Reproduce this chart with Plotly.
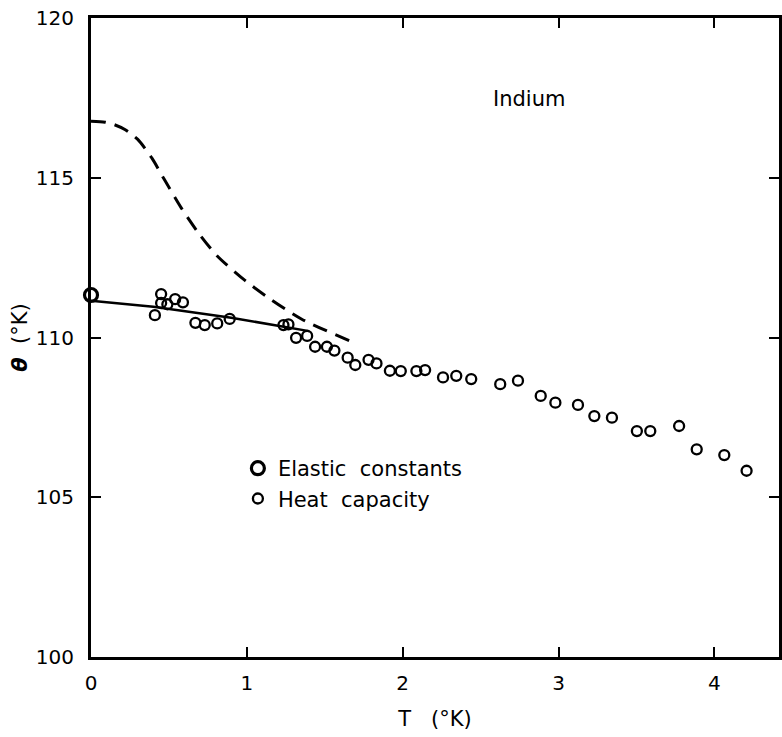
import plotly.graph_objects as go

# Data
elastic_T = [0.0]
elastic_theta = [111.33]

heat_T = [0.41, 0.45, 0.45, 0.49, 0.54, 0.59, 0.67, 0.73, 0.81, 0.89,
          1.235, 1.267, 1.316, 1.387, 1.438, 1.514, 1.562, 1.647, 1.696,
          1.781, 1.832, 1.918, 1.988, 2.088, 2.144, 2.259, 2.344, 2.440,
          2.626, 2.740, 2.886, 2.980, 3.125, 3.230, 3.343, 3.503, 3.589,
          3.774, 3.887, 4.064, 4.207]
heat_theta = [110.70, 111.36, 111.08, 111.04, 111.20, 111.10, 110.46, 110.39, 110.44, 110.58,
              110.39, 110.41, 109.99, 110.05, 109.71, 109.71, 109.59, 109.37, 109.14,
              109.30, 109.19, 108.96, 108.95, 108.95, 108.98, 108.75, 108.80, 108.70,
              108.54, 108.65, 108.17, 107.96, 107.89, 107.54, 107.49, 107.07, 107.07,
              107.23, 106.50, 106.32, 105.83]

fit_T = [0.0, 0.4, 0.9, 1.25, 1.4]
fit_theta = [111.15, 110.96, 110.62, 110.33, 110.2]

dash_T = [0.0, 0.09, 0.15, 0.22, 0.30, 0.39, 0.47, 0.58, 0.69, 0.81, 0.99, 1.16, 1.35, 1.67]
dash_theta = [116.77, 116.74, 116.66, 116.50, 116.20, 115.62, 114.95, 114.05, 113.27,
              112.55, 111.78, 111.17, 110.58, 109.87]

x_ticks = [0, 1, 2, 3, 4]
y_ticks = [100, 105, 110, 115, 120]

FONT = "DejaVu Sans"

fig = go.Figure()
fig.add_trace(go.Scatter(x=dash_T, y=dash_theta, mode="lines", showlegend=False,
                         line=dict(color="black", width=3, dash="15px,9px"),
                         line_shape="spline", line_smoothing=0.7))
fig.add_trace(go.Scatter(x=fit_T, y=fit_theta, mode="lines", showlegend=False,
                         line=dict(color="black", width=2.5)))
fig.add_trace(go.Scatter(x=heat_T, y=heat_theta, mode="markers", name="Heat  capacity",
                         marker=dict(symbol="circle-open", size=10, color="black",
                                     line=dict(width=2.3, color="black"))))
fig.add_trace(go.Scatter(x=elastic_T, y=elastic_theta, mode="markers", name="Elastic  constants",
                         marker=dict(symbol="circle-open", size=13, color="black",
                                     line=dict(width=3.2, color="black")), cliponaxis=False))

fig.add_annotation(x=2.81, y=117.45, text="Indium", showarrow=False,
                   font=dict(family=FONT, size=21, color="black"), xanchor="center",
                   yanchor="middle")

fig.update_layout(
    width=782, height=737,
    margin=dict(l=91, r=0, t=18, b=80),
    plot_bgcolor="white", paper_bgcolor="white",
    font=dict(family=FONT, size=20, color="black"),
    legend=dict(x=0.2135, y=0.327, xanchor="left", yanchor="top",
                traceorder="reversed", bgcolor="rgba(0,0,0,0)",
                font=dict(family=FONT, size=21, color="black"),
                itemwidth=30, tracegroupgap=0),
    xaxis=dict(range=[0, 4.415], tickvals=x_ticks, ticktext=[str(v) for v in x_ticks],
               showgrid=False, zeroline=False, showline=True, linecolor="black", linewidth=3,
               mirror="allticks", ticks="inside", ticklen=10, tickwidth=2, tickcolor="black",
               ticklabelstandoff=6,
               title=dict(text="T   (°K)", font=dict(family=FONT, size=21), standoff=18)),
    yaxis=dict(range=[100, 120], tickvals=y_ticks, ticktext=[str(v) for v in y_ticks],
               showgrid=False, zeroline=False, showline=True, linecolor="black", linewidth=3,
               mirror="allticks", ticks="inside", ticklen=10, tickwidth=2, tickcolor="black",
               ticklabelstandoff=10,
               title=dict(text="<b><i>θ</i></b>  (°K)", font=dict(family=FONT, size=21), standoff=3)),
)

fig.write_html("out.html")
